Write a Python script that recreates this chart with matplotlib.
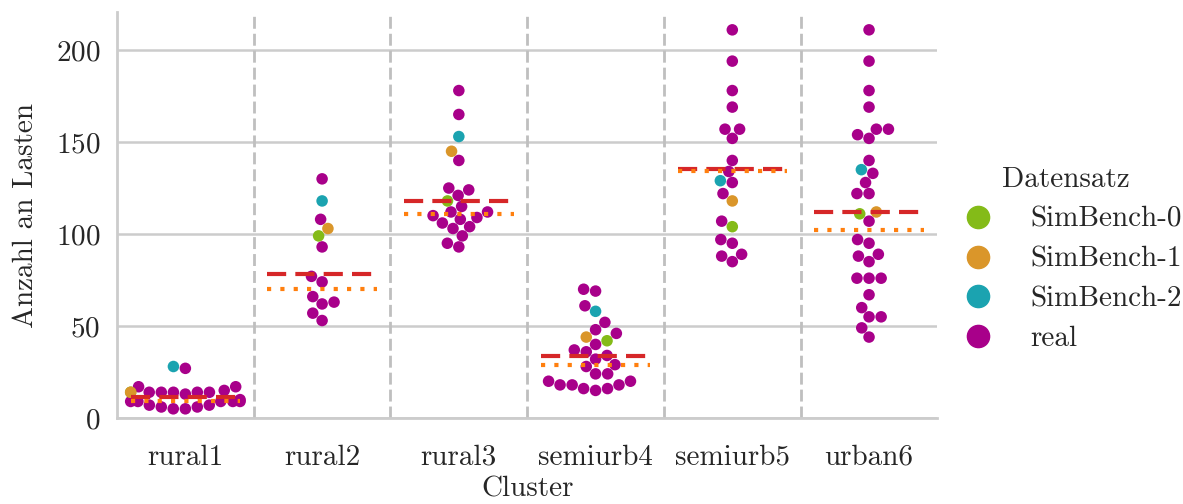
import numpy as np
import pandas as pd
import matplotlib
matplotlib.use("Agg")
import matplotlib.pyplot as plt
import seaborn as sns
from matplotlib.lines import Line2D

clusters = ["rural1", "rural2", "rural3", "semiurb4", "semiurb5", "urban6"]
datasets = ["SimBench-0", "SimBench-1", "SimBench-2", "real"]
colors = ["#84bb18", "#da962a", "#1ba3b0", "#a8008a"]

# real loads per cluster
real_rural1 = [27, 17, 17, 15, 14, 14, 14, 14, 14, 13, 10, 9, 9, 9, 9, 9, 7, 7, 6, 6, 5, 5]
real_rural2 = [130, 108, 93, 77, 74, 66, 63, 62, 57, 53]
real_rural3 = [178, 165, 140, 125, 124, 121, 115, 112, 112, 110, 109, 108,
               106, 104, 103, 99, 95, 93]
real_semiurb4 = [70, 69, 61, 52, 48, 46, 40, 37, 36, 34, 32, 29, 28, 24, 24,
                 20, 20, 18, 18, 18, 16, 16, 15]
real_semiurb5 = [211, 194, 178, 169, 157, 157, 152, 140, 134, 128, 122, 107,
                 97, 95, 89, 88, 85]
real_urban6 = [211, 194, 178, 169, 157, 157, 154, 152, 140, 133, 128, 122, 122,
               107, 97, 95, 89, 88, 85, 76, 76, 76, 67, 60, 55, 55, 49, 44]

simbench0 = [14, 99, 118, 42, 104, 111]
simbench1 = [14, 103, 145, 44, 118, 112]
simbench2 = [28, 118, 153, 58, 129, 135]

real = [real_rural1, real_rural2, real_rural3, real_semiurb4, real_semiurb5, real_urban6]

rows = []
for i, c in enumerate(clusters):
    for v in real[i]:
        rows.append((c, v, "real"))
    rows.append((c, simbench0[i], "SimBench-0"))
    rows.append((c, simbench1[i], "SimBench-1"))
    rows.append((c, simbench2[i], "SimBench-2"))
df = pd.DataFrame(rows, columns=["Cluster", "Anzahl", "Datensatz"])

sns.set_theme(style="whitegrid")
plt.rcParams["font.family"] = ["cmr10", "DejaVu Serif"]
plt.rcParams["mathtext.fontset"] = "cm"
plt.rcParams["axes.unicode_minus"] = False
plt.rcParams["axes.formatter.use_mathtext"] = True

fs = 21
fig = plt.figure(figsize=(11.83, 5.04), dpi=100)
ax = fig.add_axes([0.0989, 0.1706, 0.6935, 0.8056])

sns.swarmplot(data=df, x="Cluster", y="Anzahl", hue="Datensatz", order=clusters,
              hue_order=datasets, palette=colors, size=8.3, ax=ax, legend=False,
              zorder=3)

for i, r in enumerate(real):
    ax.plot([i - 0.4, i + 0.4], [np.mean(r)] * 2, color="#d62728", lw=3,
            ls=(0, (4.6, 2.2)), zorder=4)
    ax.plot([i - 0.4, i + 0.4], [np.median(r)] * 2, color="#ff7f0e", lw=3,
            ls=(0, (1, 2.2)), zorder=4)

for i in range(len(clusters) - 1):
    ax.axvline(i + 0.5, color="#bfbfbf", lw=2, ls=(0, (4.3, 1.8)), zorder=1)

ax.set_xlim(-0.5, 5.5)
ax.set_ylim(0, 220.7)
ax.set_yticks([0, 50, 100, 150, 200])
ax.grid(axis="y", color="#cccccc", lw=1.8)
ax.grid(axis="x", visible=False)
sns.despine(ax=ax)
for s in ["left", "bottom"]:
    ax.spines[s].set_color("#cccccc")
    ax.spines[s].set_linewidth(2)
ax.tick_params(labelsize=fs, colors="#262626", length=0)
ax.tick_params(axis="x", pad=19)
ax.tick_params(axis="y", pad=12)
ax.set_xlabel("Cluster", fontsize=fs, color="#262626", labelpad=4)
ax.set_ylabel("Anzahl an Lasten", fontsize=fs, color="#262626", labelpad=12)

handles = [Line2D([], [], marker="o", ls="", color=c, markersize=16) for c in colors]
fig.legend(handles, datasets, title="Datensatz", loc="center left",
           bbox_to_anchor=(0.78, 0.485), frameon=False, fontsize=21,
           title_fontsize=21, handletextpad=0.8, labelspacing=0.46)

fig.savefig("out.png", dpi=100)
